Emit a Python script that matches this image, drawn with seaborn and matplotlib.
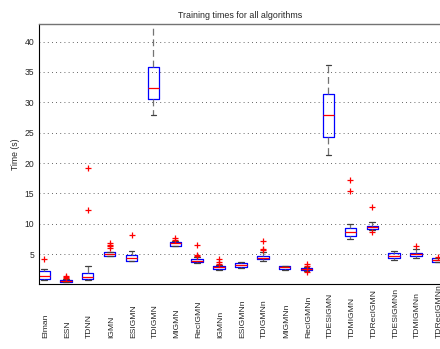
import numpy as np
import pandas as pd
import matplotlib
matplotlib.use("Agg")
import matplotlib.pyplot as plt
import seaborn as sns

# Algorithms evaluated
algorithms = ["Elman", "ESN", "TDNN", "IGMN", "ESIGMN", "TDIGMN", "MIGMN",
              "RecIGMN", "IGMNn", "ESIGMNn", "TDIGMNn", "MIGMNn", "RecIGMNn",
              "TDESIGMN", "TDMIGMN", "TDRecIGMN", "TDESIGMNn", "TDMIGMNn",
              "TDRecIGMNn"]

# Box statistics of training time (s) per algorithm
whisker_low = [0.75, 0.35, 0.77, 4.68, 3.85, 27.9, 6.37, 3.50, 2.45, 2.70,
               3.95, 2.47, 2.30, 21.3, 7.50, 8.95, 4.06, 4.34, 3.70]
quartile1 = [0.94, 0.50, 0.94, 4.75, 3.90, 30.54, 6.41, 3.65, 2.58, 2.86,
             4.18, 2.63, 2.42, 24.35, 8.06, 9.10, 4.34, 4.72, 3.78]
medians = [1.48, 0.62, 1.22, 5.02, 4.34, 32.3, 6.80, 3.95, 2.86, 3.19,
           4.44, 2.86, 2.63, 28.0, 8.60, 9.44, 4.77, 5.00, 4.10]
quartile3 = [2.27, 0.80, 1.87, 5.30, 4.93, 35.86, 7.07, 4.20, 3.08, 3.52,
             4.77, 3.03, 2.80, 31.36, 9.27, 9.65, 5.16, 5.27, 4.34]
whisker_high = [2.55, 0.95, 3.13, 5.40, 5.55, 45.0, 7.15, 4.50, 3.15, 3.68,
                5.30, 3.05, 2.85, 36.1, 9.98, 10.26, 5.54, 5.87, 4.40]
outliers = [[4.18], [1.05, 1.2, 1.45], [12.3, 19.2], [6.0, 6.3, 6.55, 6.85],
            [8.1], [], [7.35, 7.6], [4.7, 4.95, 6.6], [3.4, 3.7, 4.2], [],
            [5.65, 5.9, 7.24], [], [2.1, 3.0, 3.35], [], [15.46, 17.27],
            [8.7, 12.83], [], [6.41], [4.6]]

y_ticks = [5, 10, 15, 20, 25, 30, 35, 40]

box_rows = []
for name, a, b, c, d, e in zip(algorithms, whisker_low, quartile1, medians,
                               quartile3, whisker_high):
    for v in (a, b, c, d, e):
        box_rows.append({"algorithm": name, "time": v})
box_df = pd.DataFrame(box_rows)

out_rows = [{"algorithm": name, "time": v}
            for name, vals in zip(algorithms, outliers) for v in vals]
out_df = pd.DataFrame(out_rows)

sns.set_style("white")
plt.rcParams["font.family"] = ["Liberation Sans", "DejaVu Sans"]

fig = plt.figure(figsize=(4.4, 3.49), dpi=100)
ax = fig.add_axes([39 / 440, 65 / 349, 403 / 440, 260 / 349])

sns.boxplot(data=box_df, x="algorithm", y="time", order=algorithms,
            whis=(0, 100), fill=False, color="#0000ff", width=0.52,
            linewidth=0.9, ax=ax,
            boxprops={"color": "#0000ff", "linewidth": 0.9},
            medianprops={"color": "#ff0000", "linewidth": 0.9},
            whiskerprops={"color": "0.45", "linestyle": (0, (5.5, 3)),
                          "linewidth": 0.9},
            capprops={"color": "0.25", "linewidth": 0.9})

sns.stripplot(data=out_df, x="algorithm", y="time", order=algorithms,
              jitter=False, marker="+", color="#ff0000", size=5,
              linewidth=0.9, ax=ax)

ax.set_xlim(-0.23, 18.19)
ax.set_ylim(0.1, 42.9)
ax.set_yticks(y_ticks)
ax.set_xticks(range(len(algorithms)))
ax.set_xticklabels([])
ax.set_xlabel("")
ax.tick_params(axis="x", length=0)
ax.tick_params(axis="y", direction="in", length=2, pad=3.5, labelsize=6.2)

for i, name in enumerate(algorithms):
    ax.text(i + 0.08, -0.2077, name, transform=ax.get_xaxis_transform(),
            rotation=90, rotation_mode="anchor", ha="left", va="center",
            fontsize=6.1, clip_on=False)

ax.set_ylabel("Time (s)", fontsize=6.2, labelpad=3)
ax.set_title("Training times for all algorithms", fontsize=6.4, pad=4.5)

ax.set_axisbelow(True)
ax.yaxis.grid(True, linestyle=(0, (1, 4)), color="0.2", linewidth=0.6)
ax.xaxis.grid(False)

for side in ("left", "bottom"):
    ax.spines[side].set_color("black")
    ax.spines[side].set_linewidth(0.8)
ax.spines["top"].set_color("0.45")
ax.spines["top"].set_linewidth(1.0)
ax.spines["right"].set_visible(False)

fig.savefig("out.png", dpi=100)
